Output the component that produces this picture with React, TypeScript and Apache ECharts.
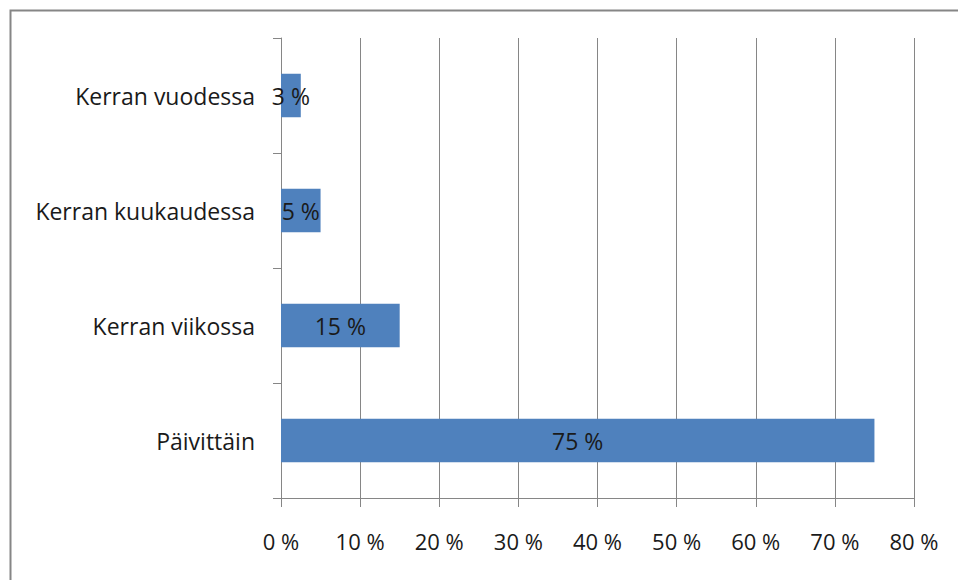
import React, { useEffect, useRef } from "react";
import * as echarts from "echarts";

const categories = ["Päivittäin", "Kerran viikossa", "Kerran kuukaudessa", "Kerran vuodessa"];
const values = [75, 15, 5, 2.5];
const labels = ["75 %", "15 %", "5 %", "3 %"];

const FONT = "Open Sans";
const GRAY = "#868686";

export default function App() {
  const ref = useRef<HTMLDivElement>(null);
  useEffect(() => {
    const chart = echarts.init(ref.current!, null, { renderer: "svg" });
    chart.setOption({
      animation: false,
      backgroundColor: "#ffffff",
      grid: { left: 281, right: 44, top: 38, bottom: 82, containLabel: false },
      graphic: [
        {
          type: "rect",
          left: 8,
          top: 8,
          shape: { x: 0, y: 0, width: 1000, height: 1000 },
          style: { fill: "none", stroke: GRAY, lineWidth: 2 },
          silent: true,
        },
      ],
      xAxis: {
        type: "value",
        min: 0,
        max: 80,
        interval: 10,
        axisLine: { show: true, lineStyle: { color: GRAY, width: 1 } },
        axisTick: { show: true, length: 9, lineStyle: { color: GRAY } },
        splitLine: { show: true, lineStyle: { color: GRAY, width: 1 } },
        axisLabel: {
          formatter: "{value} %",
          color: "#1a1a1a",
          fontFamily: FONT,
          fontSize: 22,
          margin: 32,
        },
      },
      yAxis: {
        type: "category",
        data: categories,
        axisLine: { show: true, lineStyle: { color: GRAY, width: 1 } },
        axisTick: { show: true, length: 8, lineStyle: { color: GRAY } },
        axisLabel: {
          color: "#1a1a1a",
          fontFamily: FONT,
          fontSize: 23,
          margin: 26,
        },
      },
      series: [
        {
          type: "bar",
          data: values,
          barWidth: "38%",
          itemStyle: { color: "#4f81bd" },
          label: {
            show: true,
            position: "inside",
            color: "#1a1a1a",
            fontFamily: FONT,
            fontSize: 23,
            formatter: (p: any) => labels[p.dataIndex],
          },
        },
      ],
    });
    return () => chart.dispose();
  }, []);
  return (
    <div
      ref={ref}
      style={{ position: "fixed", left: 0, top: 0, width: 958, height: 580 }}
    />
  );
}
